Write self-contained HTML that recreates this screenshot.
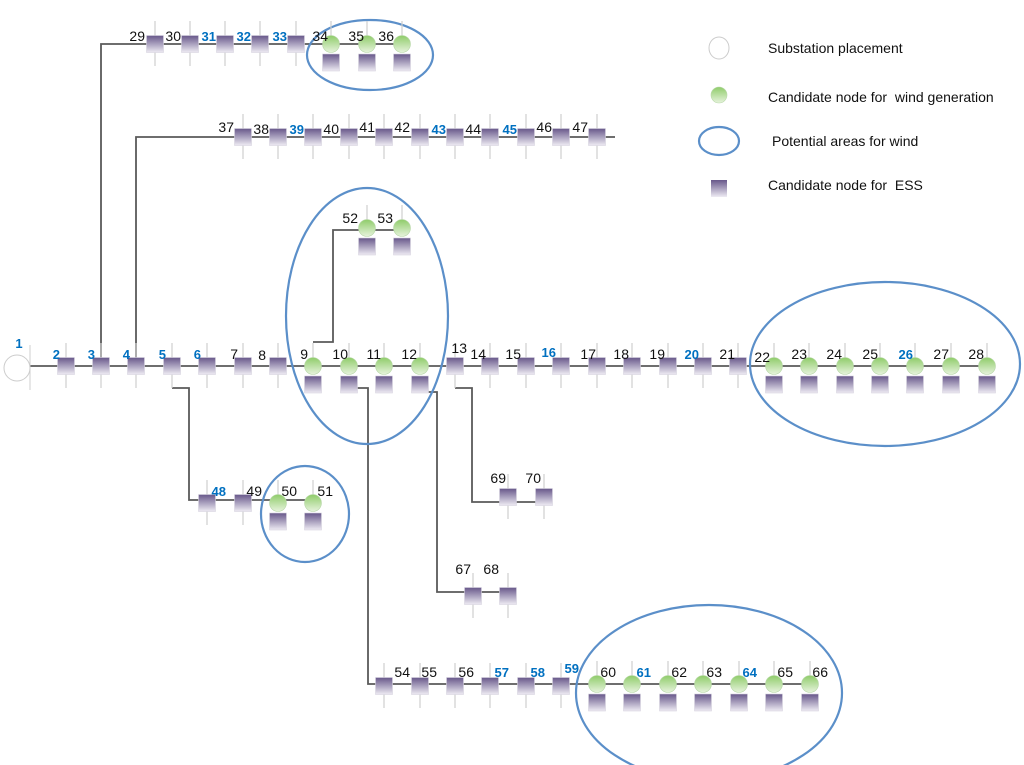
<!DOCTYPE html>
<html><head><meta charset="utf-8"><style>
body{margin:0;background:#fff}
svg{display:block}
text{font-family:"Liberation Sans",sans-serif;font-size:14px;fill:#111;white-space:pre}
.b{fill:#0070c0;font-weight:bold;font-size:13px}
.l{font-size:14px}
</style></head><body>
<svg width="1024" height="765" viewBox="0 0 1024 765" xmlns="http://www.w3.org/2000/svg">
<defs>
<linearGradient id="sq" x1="0" y1="0" x2="0" y2="1"><stop offset="0" stop-color="#67578a"/><stop offset="1" stop-color="#eeebf3"/></linearGradient>
<linearGradient id="gr" x1="0" y1="0" x2="0" y2="1"><stop offset="0" stop-color="#8fcc6a"/><stop offset="1" stop-color="#e6f3dc"/></linearGradient>
<g id="p"><line x1="0" y1="-23" x2="0" y2="22" stroke="#cfcfcf" stroke-width="1.2"/><rect x="-8.5" y="-8.5" width="17" height="17" fill="url(#sq)" stroke="#d8d4e0" stroke-width="0.6"/></g>
<g id="g"><line x1="0" y1="-23" x2="0" y2="-8" stroke="#cfcfcf" stroke-width="1.2"/><circle cx="0" cy="0" r="8.5" fill="url(#gr)" stroke="#b8d8a8" stroke-width="0.6"/><rect x="-8.5" y="10" width="17" height="17" fill="url(#sq)" stroke="#d8d4e0" stroke-width="0.6"/></g>
</defs>
<g stroke="#5a5a5a" stroke-width="1.8" fill="none">
<line x1="30" y1="366" x2="990" y2="366"/>
<polyline points="101,366 101,44 402,44"/>
<polyline points="136,366 136,137 615,137"/>
<polyline points="313,342 333,342 333,230 402,230"/>
<polyline points="172,388 189,388 189,500 318,500"/>
<polyline points="357,388 368,388 368,684 812,684"/>
<polyline points="428,392 437,392 437,592 508,592"/>
<polyline points="455,388 472,388 472,502 545,502"/>
</g>
<g fill="none" stroke="#5b8fc9" stroke-width="2.2">
<ellipse cx="370" cy="55" rx="63" ry="35"/>
<ellipse cx="367" cy="316" rx="81" ry="128"/>
<ellipse cx="305" cy="514" rx="44" ry="48"/>
<ellipse cx="709" cy="693" rx="133" ry="88"/>
<ellipse cx="885" cy="364" rx="135" ry="82"/>
<ellipse cx="719" cy="141" rx="20" ry="14"/>
</g>
<line x1="30" y1="345" x2="30" y2="390" stroke="#cfcfcf"/>
<circle cx="17" cy="368" r="13" fill="#fff" stroke="#ccc"/>
<text x="19" y="348" class="b" text-anchor="middle">1</text>
<use href="#p" x="66" y="366"/><use href="#p" x="101" y="366"/><use href="#p" x="136" y="366"/><use href="#p" x="172" y="366"/><use href="#p" x="207" y="366"/><use href="#p" x="243" y="366"/><use href="#p" x="278" y="366"/>
<use href="#g" x="313" y="366"/><use href="#g" x="349" y="366"/><use href="#g" x="384" y="366"/><use href="#g" x="420" y="366"/>
<use href="#p" x="455" y="366"/><use href="#p" x="490" y="366"/><use href="#p" x="526" y="366"/><use href="#p" x="561" y="366"/><use href="#p" x="597" y="366"/><use href="#p" x="632" y="366"/><use href="#p" x="668" y="366"/><use href="#p" x="703" y="366"/><use href="#p" x="738" y="366"/>
<use href="#g" x="774" y="366"/><use href="#g" x="809" y="366"/><use href="#g" x="845" y="366"/><use href="#g" x="880" y="366"/><use href="#g" x="915" y="366"/><use href="#g" x="951" y="366"/><use href="#g" x="987" y="366"/>
<g text-anchor="end">
<text x="60" y="359" class="b">2</text><text x="95" y="359" class="b">3</text><text x="130" y="359" class="b">4</text><text x="166" y="359" class="b">5</text><text x="201" y="359" class="b">6</text><text x="238" y="359">7</text><text x="266" y="360">8</text>
<text x="308" y="359">9</text><text x="348" y="359">10</text><text x="381" y="359">11</text><text x="417" y="359">12</text><text x="467" y="353">13</text>
<text x="486" y="359">14</text><text x="521" y="359">15</text><text x="556" y="357" class="b">16</text><text x="596" y="359">17</text><text x="629" y="359">18</text><text x="665" y="359">19</text><text x="699" y="359" class="b">20</text><text x="735" y="359">21</text>
<text x="770" y="362">22</text><text x="807" y="359">23</text><text x="842" y="359">24</text><text x="878" y="359">25</text><text x="913" y="359" class="b">26</text><text x="949" y="359">27</text><text x="984" y="359">28</text>
</g>
<use href="#p" x="155" y="44"/><use href="#p" x="190" y="44"/><use href="#p" x="225" y="44"/><use href="#p" x="260" y="44"/><use href="#p" x="296" y="44"/>
<use href="#g" x="331" y="44"/><use href="#g" x="367" y="44"/><use href="#g" x="402" y="44"/>
<g text-anchor="end">
<text x="145" y="41">29</text><text x="181" y="41">30</text><text x="216" y="41" class="b">31</text><text x="251" y="41" class="b">32</text><text x="287" y="41" class="b">33</text><text x="328" y="41">34</text><text x="364" y="41">35</text><text x="394" y="41">36</text>
</g>
<use href="#p" x="243" y="137"/><use href="#p" x="278" y="137"/><use href="#p" x="313" y="137"/><use href="#p" x="349" y="137"/><use href="#p" x="384" y="137"/><use href="#p" x="420" y="137"/><use href="#p" x="455" y="137"/><use href="#p" x="490" y="137"/><use href="#p" x="526" y="137"/><use href="#p" x="561" y="137"/><use href="#p" x="597" y="137"/>
<g text-anchor="end">
<text x="234" y="132">37</text><text x="269" y="134">38</text><text x="304" y="134" class="b">39</text><text x="339" y="134">40</text><text x="375" y="132">41</text><text x="410" y="132">42</text><text x="446" y="134" class="b">43</text><text x="481" y="134">44</text><text x="517" y="134" class="b">45</text><text x="552" y="132">46</text><text x="588" y="132">47</text>
</g>
<use href="#g" x="367" y="228"/><use href="#g" x="402" y="228"/>
<text x="358" y="223" text-anchor="end">52</text><text x="393" y="223" text-anchor="end">53</text>
<use href="#p" x="207" y="503"/><use href="#p" x="243" y="503"/><use href="#g" x="278" y="503"/><use href="#g" x="313" y="503"/>
<g text-anchor="end"><text x="226" y="496" class="b">48</text><text x="262" y="496">49</text><text x="297" y="496">50</text><text x="333" y="496">51</text></g>
<use href="#p" x="508" y="497"/><use href="#p" x="544" y="497"/>
<text x="506" y="483" text-anchor="end">69</text><text x="541" y="483" text-anchor="end">70</text>
<use href="#p" x="473" y="596"/><use href="#p" x="508" y="596"/>
<text x="471" y="574" text-anchor="end">67</text><text x="499" y="574" text-anchor="end">68</text>
<use href="#p" x="384" y="686"/><use href="#p" x="420" y="686"/><use href="#p" x="455" y="686"/><use href="#p" x="490" y="686"/><use href="#p" x="526" y="686"/><use href="#p" x="561" y="686"/>
<use href="#g" x="597" y="684"/><use href="#g" x="632" y="684"/><use href="#g" x="668" y="684"/><use href="#g" x="703" y="684"/><use href="#g" x="739" y="684"/><use href="#g" x="774" y="684"/><use href="#g" x="810" y="684"/>
<g text-anchor="end">
<text x="410" y="677">54</text><text x="437" y="677">55</text><text x="474" y="677">56</text><text x="509" y="677" class="b">57</text><text x="545" y="677" class="b">58</text><text x="579" y="673" class="b">59</text>
<text x="616" y="677">60</text><text x="651" y="677" class="b">61</text><text x="687" y="677">62</text><text x="722" y="677">63</text><text x="757" y="677" class="b">64</text><text x="793" y="677">65</text><text x="828" y="677">66</text>
</g>
<ellipse cx="719" cy="48" rx="10" ry="11" fill="#fff" stroke="#ccc"/>
<circle cx="719" cy="95" r="8" fill="url(#gr)" stroke="#b8d8a8" stroke-width="0.6"/>
<rect x="711" y="180" width="16" height="17" fill="url(#sq)"/>
<text x="768" y="53" class="l">Substation placement</text>
<text x="768" y="102" class="l">Candidate node for  wind generation</text>
<text x="772" y="146" class="l">Potential areas for wind</text>
<text x="768" y="190" class="l">Candidate node for  ESS</text>
</svg>
</body></html>
